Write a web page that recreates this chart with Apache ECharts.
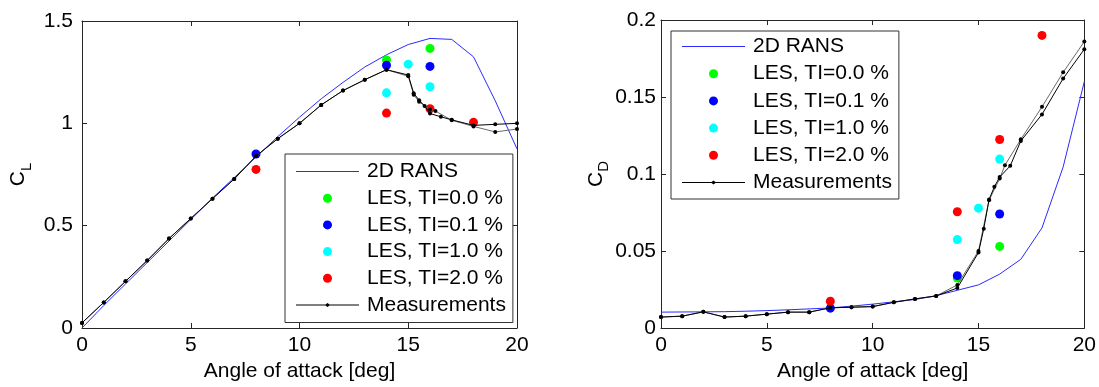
<!DOCTYPE html>
<html>
<head>
<meta charset="utf-8">
<title>Lift and drag coefficients vs angle of attack</title>
<script src="https://cdn.jsdelivr.net/npm/echarts@6/dist/echarts.min.js"></script>
<style>
  html, body { margin: 0; padding: 0; background: #ffffff; }
  #chart { width: 1099px; height: 387px; }
</style>
</head>
<body>
<div id="chart"></div>
<script>
// ---- 2D RANS ----
const ransAoa = [0, 1, 2, 3, 4, 5, 6, 7, 8, 9, 10, 11, 12, 13, 14, 15, 16, 17, 18, 19, 20];
const ransCl = [0.0, 0.11, 0.215, 0.32, 0.425, 0.53, 0.635, 0.735, 0.835, 0.935, 1.03, 1.12, 1.2, 1.275, 1.335, 1.385, 1.415, 1.41, 1.325, 1.11, 0.875];
const ransCd = [0.0103, 0.0104, 0.0105, 0.0106, 0.0109, 0.0113, 0.0118, 0.0124, 0.013, 0.0142, 0.0155, 0.017, 0.0185, 0.021, 0.0245, 0.028, 0.035, 0.0446, 0.065, 0.1046, 0.16];

// ---- LES at different inflow turbulence intensities ----
const les00Aoa = [14, 16];
const les00Cl = [1.31, 1.366];
const les00Cd = [0.0324, 0.053];

const les01Aoa = [8, 14, 16];
const les01Cl = [0.85, 1.284, 1.278];
const les01Cd = [0.0129, 0.034, 0.074];

const les10Aoa = [14, 15, 16];
const les10Cl = [1.149, 1.289, 1.179];
const les10Cd = [0.0574, 0.0778, 0.1097];

const les20Aoa = [8, 14, 16, 18];
const les20Cl = [0.775, 1.05, 1.071, 1.005];
const les20Cd = [0.0174, 0.0755, 0.1224, 0.19];

// ---- Measurements (two runs) ----
const measClAoaA = [0, 1, 2, 3, 4, 5, 6, 7, 8, 9, 10, 11, 12, 13, 14, 15, 15.25, 15.5, 15.75, 16, 16.5, 17, 18, 19, 20];
const measClA = [0.025, 0.125, 0.228, 0.33, 0.437, 0.535, 0.632, 0.728, 0.84, 0.925, 1.0, 1.09, 1.16, 1.213, 1.262, 1.236, 1.147, 1.113, 1.085, 1.048, 1.032, 1.017, 0.99, 0.995, 1.0];
const measClAoaB = [0, 1, 2, 3, 4, 5, 6, 7, 8, 9, 10, 11, 12, 13, 14, 15, 15.25, 15.5, 16, 16.25, 17, 18, 19, 20];
const measClB = [0.025, 0.125, 0.228, 0.33, 0.437, 0.535, 0.632, 0.728, 0.84, 0.925, 1.0, 1.09, 1.16, 1.213, 1.262, 1.23, 1.14, 1.105, 1.068, 1.06, 1.015, 0.985, 0.958, 0.972];

const measCdAoaA = [0, 1, 2, 3, 4, 5, 6, 7, 8, 9, 10, 11, 12, 13, 14, 15, 15.25, 15.5, 15.75, 16, 16.5, 17, 18, 19, 20];
const measCdA = [0.0071, 0.0077, 0.0105, 0.0071, 0.0077, 0.009, 0.0103, 0.0103, 0.0131, 0.0135, 0.0139, 0.0167, 0.0189, 0.0208, 0.026, 0.049, 0.0645, 0.0835, 0.0917, 0.098, 0.1053, 0.1215, 0.1387, 0.162, 0.181];
const measCdAoaB = [0, 1, 2, 3, 4, 5, 6, 7, 8, 9, 10, 11, 12, 13, 14, 15, 15.5, 16, 16.25, 17, 18, 19, 20];
const measCdB = [0.0071, 0.0077, 0.0105, 0.0071, 0.0077, 0.009, 0.0103, 0.0103, 0.0131, 0.0135, 0.0139, 0.0167, 0.0189, 0.0208, 0.028, 0.05, 0.083, 0.097, 0.1057, 0.1225, 0.1436, 0.166, 0.186];

// ---- Axis ticks ----
const aoaTicks = { min: 0, max: 20, interval: 5 };
const clTicks = { min: 0, max: 1.5, interval: 0.5 };
const cdTicks = { min: 0, max: 0.2, interval: 0.05 };

const FONT = '"Liberation Sans", Arial, sans-serif';
const AXIS_COLOR = '#262626';

// Legend glyphs: a plain thin line, and a thin line with a small dot marker
const ICON_LINE = 'path://M0,4L63,4L63,5L0,5Z';
const ICON_LINE_DOT = 'path://M0,4L29.5,4L31.5,2.5L33.5,4L63,4L63,5L33.5,5L31.5,6.5L29.5,5L0,5Z';

function zip(xs, ys) { return xs.map((x, i) => [x, ys[i]]); }

function boxAxis(extra) {
  return Object.assign({
    type: 'value',
    axisLine: { show: true, onZero: false, lineStyle: { color: AXIS_COLOR, width: 1 } },
    axisTick: { show: true, inside: true, length: 5, lineStyle: { color: AXIS_COLOR } },
    splitLine: { show: false },
    axisLabel: { show: false }
  }, extra);
}

function tickLabel(margin) {
  return { show: true, fontSize: 21, fontFamily: FONT, color: '#000', margin: margin };
}

function subscriptName(main, sub) {
  return {
    name: '{c|' + main + '}{s|' + sub + '}',
    nameTextStyle: {
      rich: {
        c: { fontSize: 21, fontFamily: FONT, color: '#000', lineHeight: 26, verticalAlign: 'top' },
        s: { fontSize: 15, fontFamily: FONT, color: '#000', lineHeight: 26, verticalAlign: 'bottom', padding: [8, 0, 0, 0] }
      }
    }
  };
}

const xName = {
  name: 'Angle of attack [deg]',
  nameLocation: 'middle',
  nameGap: 33,
  nameTextStyle: { fontSize: 21, fontFamily: FONT, color: '#000' }
};

const xAxes = [
  boxAxis(Object.assign({ gridIndex: 0, position: 'bottom', axisLabel: tickLabel(7) }, aoaTicks, xName)),
  boxAxis(Object.assign({ gridIndex: 0, position: 'top' }, aoaTicks)),
  boxAxis(Object.assign({ gridIndex: 1, position: 'bottom', axisLabel: tickLabel(7) }, aoaTicks, xName)),
  boxAxis(Object.assign({ gridIndex: 1, position: 'top' }, aoaTicks))
];

const yAxes = [
  boxAxis(Object.assign({ gridIndex: 0, position: 'left', axisLabel: tickLabel(9),
    nameLocation: 'middle', nameGap: 48, nameRotate: 90 }, clTicks, subscriptName('C', 'L'))),
  boxAxis(Object.assign({ gridIndex: 0, position: 'right' }, clTicks)),
  boxAxis(Object.assign({ gridIndex: 1, position: 'left', axisLabel: tickLabel(5),
    nameLocation: 'middle', nameGap: 42, nameRotate: 90 }, cdTicks, subscriptName('C', 'D'))),
  boxAxis(Object.assign({ gridIndex: 1, position: 'right' }, cdTicks))
];

const LES_STYLE = [
  { name: 'LES, TI=0.0 %', color: '#00ff00' },
  { name: 'LES, TI=0.1 %', color: '#0000ff' },
  { name: 'LES, TI=1.0 %', color: '#00ffff' },
  { name: 'LES, TI=2.0 %', color: '#ff0000' }
];

function ransSeries(axis, ys) {
  return {
    name: '2D RANS', type: 'line', xAxisIndex: axis, yAxisIndex: axis,
    data: zip(ransAoa, ys), symbol: 'none', silent: true, z: 3,
    lineStyle: { color: '#2a2aff', width: 1 }, itemStyle: { color: '#2a2aff' }
  };
}

function lesSeries(axis, idx, xs, ys) {
  return {
    name: LES_STYLE[idx].name, type: 'scatter', xAxisIndex: axis, yAxisIndex: axis,
    data: zip(xs, ys), symbol: 'circle', symbolSize: 9, z: 4,
    itemStyle: { color: LES_STYLE[idx].color, opacity: 1 }
  };
}

function measSeries(axis, xs, ys, lineColor) {
  return {
    name: 'Measurements', type: 'line', xAxisIndex: axis, yAxisIndex: axis,
    data: zip(xs, ys), symbol: 'circle', symbolSize: 4, showSymbol: true, z: 5,
    lineStyle: { color: lineColor, width: 1 }, itemStyle: { color: '#000' }
  };
}

function legendFor(left, top, pad, gap) {
  return {
    orient: 'vertical', left: left, top: top,
    padding: pad, itemGap: gap, itemWidth: 63, itemHeight: 9,
    backgroundColor: '#fff', borderColor: '#333', borderWidth: 1,
    selectedMode: false,
    textStyle: { fontSize: 21, fontFamily: FONT, color: '#000', lineHeight: 21, padding: [0, 0, 0, 3] },
    data: [
      { name: '2D RANS', icon: ICON_LINE },
      'LES, TI=0.0 %', 'LES, TI=0.1 %', 'LES, TI=1.0 %', 'LES, TI=2.0 %',
      { name: 'Measurements', icon: ICON_LINE_DOT }
    ]
  };
}

const option = {
  animation: false,
  backgroundColor: '#ffffff',
  grid: [
    { left: 82, top: 21, width: 435, height: 310 },
    { left: 661, top: 20, width: 425, height: 311 }
  ],
  xAxis: xAxes,
  yAxis: yAxes,
  legend: [
    legendFor(285, 154, [7, 7, 7, 11], 5.7),
    legendFor(671, 31, [5, 7, 6, 11], 6.2)
  ],
  series: [
    ransSeries(0, ransCl),
    lesSeries(0, 0, les00Aoa, les00Cl),
    lesSeries(0, 1, les01Aoa, les01Cl),
    lesSeries(0, 2, les10Aoa, les10Cl),
    lesSeries(0, 3, les20Aoa, les20Cl),
    measSeries(0, measClAoaB, measClB, '#6a6a6a'),
    measSeries(0, measClAoaA, measClA, '#000'),

    ransSeries(2, ransCd),
    lesSeries(2, 0, les00Aoa, les00Cd),
    lesSeries(2, 1, les01Aoa, les01Cd),
    lesSeries(2, 2, les10Aoa, les10Cd),
    lesSeries(2, 3, les20Aoa, les20Cd),
    measSeries(2, measCdAoaB, measCdB, '#6a6a6a'),
    measSeries(2, measCdAoaA, measCdA, '#000')
  ]
};

const chart = echarts.init(document.getElementById('chart'), null, { renderer: 'canvas' });
chart.setOption(option);
</script>
</body>
</html>
